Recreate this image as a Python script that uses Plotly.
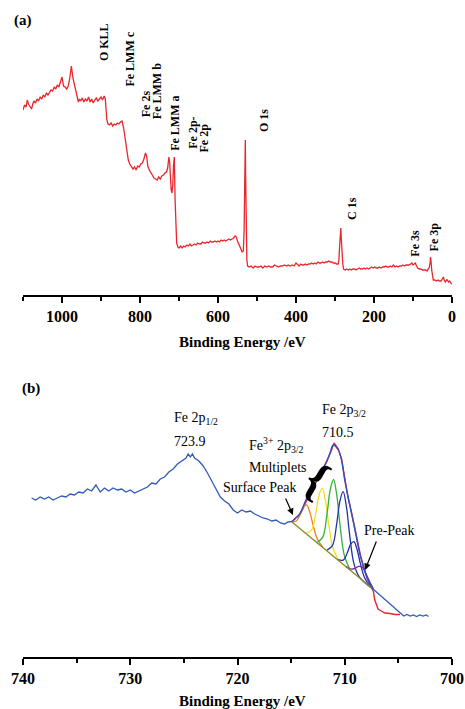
import plotly.graph_objects as go

# ---------------- Panel (a): XPS survey ----------------
SURVEY_EV = [1100, 1096, 1092, 1089, 1086, 1082, 1078, 1075, 1072, 1068, 1064, 1060, 1056, 1052, 1048, 1044,
             1040, 1036, 1032, 1028, 1024, 1020, 1016, 1012, 1008, 1004, 1000, 996, 992, 988, 984, 980, 976,
             972, 968, 964, 961, 958, 955, 952, 948, 944, 940, 936, 932, 928, 924, 920, 916, 912, 908, 904,
             900, 896, 892, 889, 887, 885, 882, 878, 874, 870, 866, 862, 858, 854, 850, 846, 842, 838, 834,
             830, 826, 822, 818, 814, 810, 806, 802, 798, 794, 790, 786, 783, 780, 776, 772, 768, 764, 760,
             756, 752, 748, 744, 740, 736, 732, 729, 726, 724, 722, 720, 718, 716, 714, 712, 710, 708, 706,
             703, 700, 696, 692, 688, 684, 680, 676, 672, 668, 664, 660, 656, 652, 648, 644, 640, 636, 632,
             628, 624, 620, 616, 612, 608, 604, 600, 596, 592, 588, 584, 580, 576, 572, 568, 564, 560, 556,
             553, 550, 546, 542, 538, 535, 533, 531, 530, 529, 528, 526, 524, 520, 515, 510, 505, 500, 495,
             490, 485, 480, 475, 470, 465, 460, 455, 450, 445, 440, 435, 430, 425, 420, 415, 410, 405, 400,
             396, 392, 388, 384, 380, 376, 372, 368, 364, 360, 356, 352, 348, 344, 340, 336, 332, 328, 324,
             320, 316, 312, 308, 304, 300, 296, 292, 290, 288, 286, 285, 284, 282, 280, 278, 274, 270, 266,
             262, 258, 254, 250, 246, 242, 238, 234, 230, 226, 222, 218, 214, 210, 206, 202, 198, 194, 190,
             186, 182, 178, 174, 170, 166, 162, 158, 154, 150, 146, 142, 138, 134, 130, 126, 122, 118, 114,
             110, 106, 103, 100, 97, 94, 91, 88, 84, 80, 76, 72, 68, 64, 61, 58, 56, 55, 54, 52, 50, 48, 44,
             40, 36, 32, 28, 25, 22, 20, 17, 14, 12, 9, 6, 3, 0]
SURVEY_I = [190, 195, 193, 200, 196, 193, 191, 196, 199, 197, 201, 199, 203, 201, 205, 203,
            207, 205, 208, 210, 209, 213, 211, 215, 213, 217, 223, 214, 213, 211, 214, 222, 234,
            222, 215, 207, 200, 198, 201, 199, 202, 198, 201, 199, 203, 198, 201, 197, 200, 202, 199, 201,
            203, 200, 204, 201, 190, 180, 176, 175, 177, 174, 176, 175, 177, 176, 178, 179, 172, 160, 150,
            140, 136, 134, 131, 133, 130, 134, 133, 136, 137, 141, 147, 144, 134, 130, 127, 124, 122, 121,
            120, 123, 121, 124, 125, 127, 128, 132, 143, 138, 121, 110, 107, 115, 135, 143, 100, 70, 57,
            53, 52, 54, 52, 54, 53, 55, 54, 56, 54, 55, 56, 55, 57, 56, 56, 58, 57, 57,
            58, 57, 59, 58, 58, 59, 58, 59, 58, 60, 59, 60, 59, 60, 61, 60, 61, 62, 64,
            63, 59, 55, 51, 48, 49, 70, 130, 160, 120, 67, 40, 34, 33, 34, 32, 34, 33, 33,
            34, 32, 34, 33, 34, 33, 33, 35, 34, 33, 34, 34, 35, 34, 35, 34, 35, 34, 37,
            35, 34, 36, 35, 35, 36, 35, 36, 36, 37, 36, 37, 36, 38, 37, 37, 38, 37, 38,
            38, 39, 38, 38, 37, 37, 36, 36, 40, 55, 67, 72, 62, 45, 36, 31, 30, 31, 30,
            31, 30, 31, 31, 30, 31, 32, 31, 31, 32, 31, 32, 31, 32, 33, 32, 33, 32, 32,
            33, 32, 33, 33, 34, 33, 33, 34, 33, 35, 33, 34, 33, 34, 34, 35, 34, 35, 35,
            35, 36, 37, 35, 36, 37, 34, 32, 31, 31, 30, 30, 30, 29, 31, 33, 38, 43, 40, 30, 22, 20, 20,
            19, 20, 19, 19, 21, 23, 20, 18, 20, 20, 18, 19, 17, 16]

SURVEY_LABELS = ["O KLL", "Fe LMM c", "Fe 2s", "Fe LMM b", "Fe LMM a", "Fe 2p-", "Fe 2p",
                 "O 1s", "C 1s", "Fe 3s", "Fe 3p"]
SURVEY_LABEL_EV = [892, 828, 784, 756, 712, 666, 636, 482, 258, 95, 45]
SURVEY_LABEL_I = [258, 240.5, 196, 209, 176.5, 167.5, 162.5, 179, 91.5, 57.3, 63]

# ---------------- Panel (b): Fe 2p high resolution ----------------
FE2P_EV = [739.2, 738.8, 738.4, 738.0, 737.6, 737.2, 736.8, 736.4, 736.0, 735.6, 735.2, 734.8, 734.4,
           734.0, 733.6, 733.2, 732.8, 732.4, 732.0, 731.6, 731.2, 730.8, 730.4, 730.0, 729.6, 729.2,
           728.8, 728.4, 728.0, 727.6, 727.2, 726.8, 726.4, 726.0, 725.6, 725.2, 724.8, 724.6, 724.4,
           724.2, 724.0, 723.6, 723.2, 722.8, 722.4, 722.0, 721.6, 721.2, 720.8, 720.4, 720.0, 719.6,
           719.2, 718.8, 718.4, 718.0, 717.6, 717.2, 716.8, 716.4, 716.0, 715.6, 715.3, 714.95]
FE2P_I = [132, 130, 133, 131, 133, 130, 132, 134, 133, 136, 135, 138, 137,
          141, 139, 145, 138, 142, 139, 142, 140, 141, 138, 140, 137, 139,
          141, 143, 147, 146, 151, 153, 158, 161, 166, 169, 172, 176, 173,
          176, 172, 169, 164, 157, 149, 140, 133, 129, 126, 120, 117, 120,
          118, 119, 116, 114, 112, 111, 109, 110, 107, 106, 108, 108.3]

TAIL_EV = [707.34, 704.69, 704.5, 704.2, 703.9, 703.6, 703.3, 703.0, 702.7, 702.4, 702.2]
TAIL_I = [40.7, 15, 14, 15.5, 14, 15, 13.5, 15, 14, 15, 13.5]

RAW_EV = [714.95, 714.6, 714.3, 714.0, 713.7, 713.4, 713.1, 712.8, 712.5, 712.2, 711.9, 711.6, 711.3,
          711.0, 710.8, 710.6, 710.3, 710.0, 709.7, 709.4, 709.1, 708.8, 708.5, 708.2, 707.9, 707.6,
          707.34, 707.2, 706.9, 706.6, 706.25, 705.8, 705.3, 704.85]
RAW_I = [108, 112, 114, 119, 126, 133, 139, 145, 152, 158, 164, 171, 178,
         187, 184, 181, 171, 151, 133, 119, 103, 89, 73, 62, 51, 44,
         39, 30, 21, 19, 17, 16.5, 15.5, 15.5]

ENV_EV = [714.95, 714.6, 714.17, 713.55, 712.93, 712.3, 711.68, 711.38, 711.07, 710.6, 710.3, 710.0,
          709.5, 709.04, 708.6, 707.95, 707.34]
ENV_I = [108.3, 111.5, 116.7, 131.7, 143.3, 156.7, 168.3, 176.7, 185, 180, 170, 150,
         123.3, 100, 76.7, 53.3, 40.7]

BG_EV = [714.95, 707.34]
BG_I = [108.3, 40.7]

ORANGE_EV = [712.05, 712.55, 712.95, 713.25, 713.55, 713.85, 714.15, 714.55, 714.95]
ORANGE_I = [82.8, 90.9, 104.7, 117.6, 125.1, 122.9, 115.4, 108.7, 108.6]
YELLOW_EV = [710.6, 711.1, 711.5, 711.8, 712.1, 712.4, 712.7, 713.1, 713.6]
YELLOW_I = [70.3, 82.0, 106.3, 129.4, 141.8, 134.7, 116.9, 99.8, 96.9]
GREEN_EV = [709.55, 710.05, 710.45, 710.75, 711.05, 711.35, 711.65, 712.05, 712.55]
GREEN_I = [61.2, 75.1, 105.8, 135.2, 150.5, 140.5, 116.4, 92.9, 87.8]
NAVY_EV = [707.34, 708.65, 709.15, 709.55, 709.85, 710.15, 710.45, 710.75, 711.15, 711.65]
NAVY_I = [40.7, 53.1, 66.6, 95.7, 123.7, 138.4, 129.0, 106.4, 84.3, 79.8]
SMALL_EV = [707.34, 707.65, 708.15, 708.55, 708.85, 709.15, 709.45, 709.75, 710.15, 710.65]
SMALL_I = [40.7, 43.8, 52.2, 66.8, 80.5, 88.4, 85.8, 77.5, 69.9, 70.4]
PURPLE_EV = [707.34, 707.6, 707.9, 708.1, 708.4, 708.7, 709.0, 709.4, 709.9]
PURPLE_I = [41.2, 46.6, 53.6, 58.3, 63.1, 63.6, 61.8, 60.8, 63.6]

SERIF = "Liberation Serif"
RED = "#E8262C"
BLUE = "#2F5CB8"

# plot-area geometry in pixels (left, right, top, bottom of the shared plotting region)
PL, PR, PT, PB = 23, 452, 10, 657
W, H = 465, 709


def px(xpix):
    return (xpix - PL) / (PR - PL)


def py(ypix):
    return (PB - ypix) / (PB - PT)


fig = go.Figure()

# panel (a)
fig.add_trace(go.Scatter(x=SURVEY_EV, y=SURVEY_I, mode="lines", line=dict(color=RED, width=1.3),
                         xaxis="x", yaxis="y", hoverinfo="skip"))

# panel (b)
fig.add_trace(go.Scatter(x=RAW_EV, y=RAW_I, mode="lines", line=dict(color=RED, width=1.4),
                         xaxis="x2", yaxis="y2"))
comp = [(ORANGE_EV, ORANGE_I, "#F08224"), (YELLOW_EV, YELLOW_I, "#ECE225"),
        (GREEN_EV, GREEN_I, "#30B43A"), (NAVY_EV, NAVY_I, "#2433A8"),
        (SMALL_EV, SMALL_I, "#2A2CB0"), (PURPLE_EV, PURPLE_I, "#7B2E9E")]
for ex, iy, col in comp:
    fig.add_trace(go.Scatter(x=ex, y=iy, mode="lines", line=dict(color=col, width=1.3, shape="spline"),
                             xaxis="x2", yaxis="y2"))
fig.add_trace(go.Scatter(x=BG_EV, y=BG_I, mode="lines", line=dict(color="#8C8C2A", width=1.4),
                         xaxis="x2", yaxis="y2"))
fig.add_trace(go.Scatter(x=FE2P_EV, y=FE2P_I, mode="lines", line=dict(color=BLUE, width=1.3),
                         xaxis="x2", yaxis="y2"))
fig.add_trace(go.Scatter(x=ENV_EV, y=ENV_I, mode="lines", line=dict(color="#2E52C0", width=1.4, shape="spline"),
                         xaxis="x2", yaxis="y2"))
fig.add_trace(go.Scatter(x=TAIL_EV, y=TAIL_I, mode="lines", line=dict(color=BLUE, width=1.3),
                         xaxis="x2", yaxis="y2"))

ann = []
for t, ex, iy in zip(SURVEY_LABELS, SURVEY_LABEL_EV, SURVEY_LABEL_I):
    ann.append(dict(text=t, x=ex, y=iy, xref="x", yref="y", showarrow=False, textangle=-90,
                    xanchor="center", yanchor="middle",
                    font=dict(family=SERIF, size=12, color="black", weight="bold")))

nfont = dict(family=SERIF, size=14, color="black")
bfont = dict(family=SERIF, size=15, color="black", weight="bold")
ann += [
    dict(text="Fe 2p<sub>1/2</sub>", x=726.1, y=212, xref="x2", yref="y2", xanchor="left", yanchor="middle", showarrow=False, font=nfont),
    dict(text="723.9", x=726.1, y=189, xref="x2", yref="y2", xanchor="left", yanchor="middle", showarrow=False, font=nfont),
    dict(text="Fe 2p<sub>3/2</sub>", x=712.31, y=220, xref="x2", yref="y2", xanchor="left", yanchor="middle", showarrow=False, font=nfont),
    dict(text="710.5", x=712.31, y=198, xref="x2", yref="y2", xanchor="left", yanchor="middle", showarrow=False, font=nfont),
    dict(text="Fe<sup>3+</sup> 2p<sub>3/2</sub>", x=719.11, y=185, xref="x2", yref="y2", xanchor="left", yanchor="middle", showarrow=False, font=nfont),
    dict(text="Multiplets", x=719.11, y=163, xref="x2", yref="y2", xanchor="left", yanchor="middle", showarrow=False, font=nfont),
    dict(text="Surface Peak", x=714.36, y=143, xref="x2", yref="y2", xanchor="right", yanchor="middle", showarrow=False, font=nfont),
    dict(text="Pre-Peak", x=708.39, y=100, xref="x2", yref="y2", xanchor="left", yanchor="middle", showarrow=False, font=nfont),
    dict(text="{", x=712.55, y=151, xref="x2", yref="y2", xanchor="center", yanchor="middle", showarrow=False, textangle=30,
         font=dict(family=SERIF, size=48, color="black", weight="bold")),
    # arrows
    dict(text="", x=714.83, y=115, ax=715.57, ay=133, xref="x2", yref="y2", axref="x2", ayref="y2",
         showarrow=True, arrowhead=2, arrowsize=1.1, arrowwidth=1.2, arrowcolor="black"),
    dict(text="", x=708.11, y=60, ax=707.0, ay=90, xref="x2", yref="y2", axref="x2", ayref="y2",
         showarrow=True, arrowhead=2, arrowsize=1.1, arrowwidth=1.2, arrowcolor="black"),
    # panel letters
    dict(text="(a)", x=px(22.5), y=py(21), xref="paper", yref="paper", xanchor="center", yanchor="middle",
         showarrow=False, font=bfont),
    dict(text="(b)", x=px(30.8), y=py(388), xref="paper", yref="paper", xanchor="center", yanchor="middle",
         showarrow=False, font=bfont),
    # axis titles
    dict(text="Binding Energy /eV", x=px(243), y=py(342), xref="paper", yref="paper", xanchor="center",
         yanchor="middle", showarrow=False, font=bfont),
    dict(text="Binding Energy /eV", x=px(243), y=py(701), xref="paper", yref="paper", xanchor="center",
         yanchor="middle", showarrow=False, font=bfont),
]

xcommon = dict(showline=True, linecolor="black", linewidth=2, ticks="outside", ticklen=6, tickwidth=2,
               tickcolor="black", showgrid=False, zeroline=False, automargin=False,
               tickfont=dict(family=SERIF, size=16, color="black", weight="bold"))

fig.update_layout(
    template="none",
    width=W, height=H, showlegend=False,
    margin=dict(l=PL, r=W - PR, t=PT, b=H - PB, autoexpand=False),
    paper_bgcolor="white", plot_bgcolor="white",
    xaxis=dict(domain=[0, 1], anchor="y", range=[1100, 0], tickmode="linear", tick0=0, dtick=200,
               minor=dict(dtick=100, tick0=0, ticks="outside", ticklen=3.5, tickwidth=2, tickcolor="black"),
               **xcommon),
    yaxis=dict(domain=[py(295), 1], anchor="x", range=[5, 290], visible=False, automargin=False),
    xaxis2=dict(domain=[0, 1], anchor="y2", range=[740, 700], tickmode="linear", tick0=700, dtick=10,
                minor=dict(dtick=5, tick0=700, ticks="outside", ticklen=3.5, tickwidth=2, tickcolor="black"),
                **xcommon),
    yaxis2=dict(domain=[0, py(360)], anchor="x2", range=[-27, 270], visible=False, automargin=False),
    annotations=ann,
)

fig.write_html("out.html", config={"displayModeBar": False},
               post_script="document.body.style.margin='0px';document.body.style.overflow='hidden';")
